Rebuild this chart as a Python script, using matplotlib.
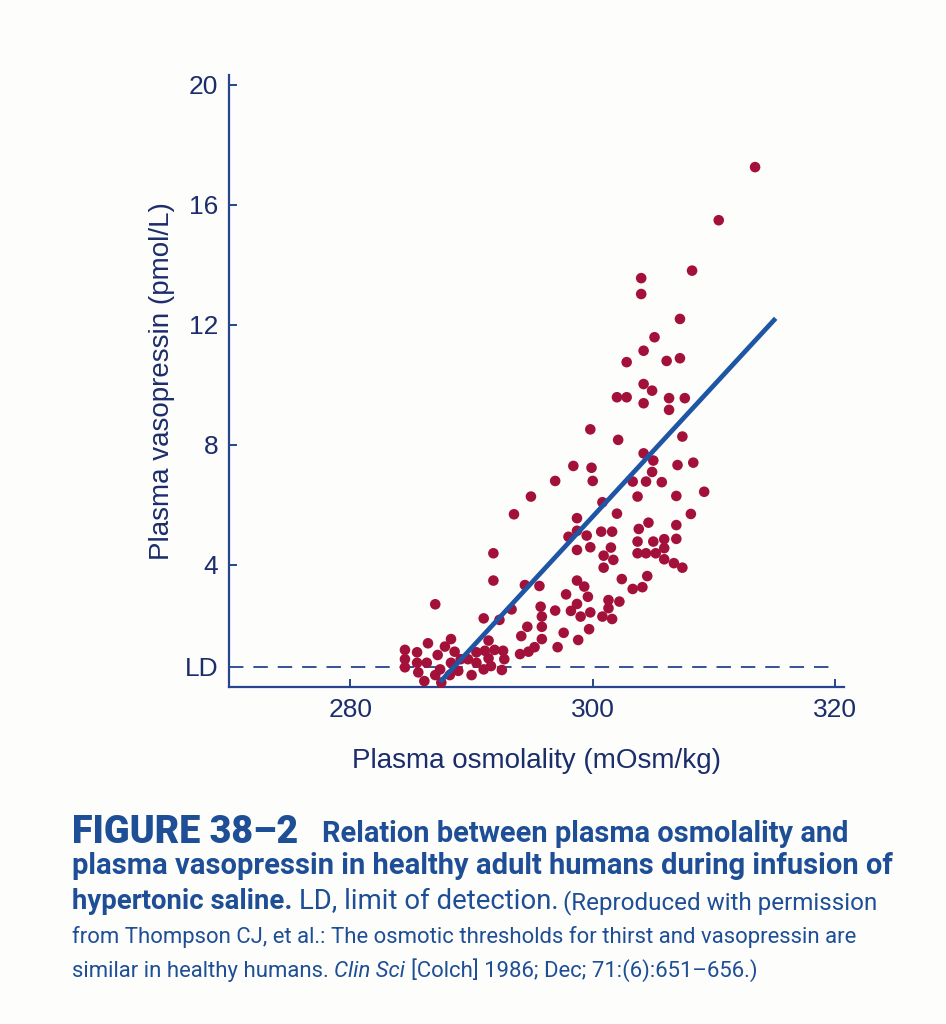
import matplotlib
matplotlib.use('Agg')
import matplotlib.pyplot as plt
from matplotlib import font_manager as fm

# ---------------- data ----------------
osmolality = [
    284.5, 284.5, 284.5, 285.5, 285.5, 285.6, 286.1, 286.4, 286.3, 287.2,
    287.4, 287.0, 287.5, 287.8, 288.3, 288.6, 288.3, 288.2, 288.9, 289.1,
    289.7, 290.0, 290.4, 290.4, 291.0, 291.1, 291.4, 291.4, 291.9, 291.6,
    292.6, 292.7, 292.5, 287.0,
    291.8, 294.4, 295.6, 293.3, 291.0, 292.3, 295.7, 295.8, 295.8, 295.8,
    294.6, 294.1, 296.9, 297.8, 298.7, 299.3, 299.6, 298.7, 298.2, 299.8,
    299.0, 299.7, 297.6, 298.8, 297.1, 295.2, 294.7, 294.0,
    299.8, 302.1, 304.2, 305.0, 304.9, 304.4, 305.7, 303.3, 303.7, 307.0,
    306.9, 298.4, 299.9, 300.0, 296.9, 294.9, 293.5, 300.8, 302.0, 298.7,
    298.7, 298.0, 299.5, 298.7, 299.8, 300.7, 301.6, 301.5, 300.9, 301.7,
    300.9, 303.8, 304.6, 303.7, 305.0, 305.9, 305.9, 303.7, 304.4, 305.2,
    305.9, 306.7, 306.9, 306.9, 291.8, 302.4, 304.5, 303.3, 304.1, 301.3,
    302.2, 301.3, 300.8, 301.6,
    308.3, 309.2, 308.1, 307.4,
    313.4, 310.4, 308.2, 304.0, 304.0, 307.2, 305.1, 304.2, 302.8, 306.1,
    307.2, 304.2, 304.9, 302.0, 302.8, 304.2, 306.3, 307.6, 306.3, 307.4,
]
vasopressin = [
    1.17, 0.86, 0.59, 1.09, 0.74, 0.42, 0.13, 1.39, 0.74, 1.00,
    0.52, 0.33, 0.08, 1.28, 1.53, 1.11, 0.74, 0.33, 0.47, 0.86,
    0.86, 0.33, 1.09, 0.74, 0.52, 1.14, 1.48, 0.89, 1.17, 0.63,
    1.14, 0.86, 0.50, 2.69,
    3.48, 3.33, 3.30, 2.52, 2.22, 2.17, 2.61, 2.28, 1.94, 1.53,
    1.94, 1.63, 2.48, 3.02, 3.48, 3.28, 2.94, 2.70, 2.47, 2.42,
    2.28, 1.86, 1.74, 1.50, 1.26, 1.26, 1.11, 1.03,
    8.52, 8.17, 7.72, 7.48, 7.10, 6.78, 6.76, 6.78, 6.28, 7.33,
    6.30, 7.30, 7.24, 6.80, 6.80, 6.28, 5.69, 6.09, 5.71, 5.56,
    5.14, 4.94, 4.98, 4.50, 4.59, 5.11, 5.11, 4.58, 4.31, 4.17,
    3.91, 5.20, 5.41, 4.78, 4.78, 4.86, 4.56, 4.39, 4.39, 4.39,
    4.19, 4.06, 5.33, 4.87, 4.39, 3.53, 3.63, 3.20, 3.26, 2.83,
    2.78, 2.56, 2.28, 2.20,
    7.41, 6.44, 5.70, 3.91,
    17.26, 15.49, 13.81, 13.56, 13.03, 12.20, 11.59, 11.14, 10.76, 10.80,
    10.89, 10.03, 9.81, 9.59, 9.59, 9.39, 9.56, 9.56, 9.17, 8.28,
]
fit_x = [287.4, 315.1]
fit_y = [0.10, 12.22]
LD = 0.6
x_ticks = [280, 300, 320]
y_ticks = [LD, 4, 8, 12, 16, 20]
y_tick_labels = ['LD', '4', '8', '12', '16', '20']

x_label = 'Plasma osmolality (mOsm/kg)'
y_label = 'Plasma vasopressin (pmol/L)'

# ---------------- style ----------------
W, H, DPI = 946, 1024, 100
BG = '#fdfdfc'
AXC = '#26458e'
TXC = '#1b2d6b'
DOT = '#a3103a'
LINEC = '#1f55a5'
CAPC = '#1d4e96'
AXF = ['Liberation Sans', 'DejaVu Sans']


def have(name):
    try:
        fm.findfont(fm.FontProperties(family=name), fallback_to_default=False)
        return True
    except Exception:
        return False


if have('Liberation Sans Narrow'):
    CAPF = ['Liberation Sans Narrow', 'DejaVu Sans']
elif have('Roboto'):
    CAPF = ['Roboto', 'DejaVu Sans']
else:
    CAPF = ['DejaVu Sans']

fig = plt.figure(figsize=(W / DPI, H / DPI), dpi=DPI)
fig.patch.set_facecolor(BG)

left, right, bottom, top = 229.3, 843.5, 686.7, 75.0
ax = fig.add_axes([left / W, 1 - bottom / H, (right - left) / W, (bottom - top) / H])
ax.set_facecolor('none')
ax.set_xlim(270, 320.7)
ax.set_ylim(-0.057, 20.33)

for s in ('top', 'right'):
    ax.spines[s].set_visible(False)
for s in ('left', 'bottom'):
    ax.spines[s].set_color(AXC)
    ax.spines[s].set_linewidth(1.6)

ax.set_xticks(x_ticks)
ax.set_xticklabels([str(v) for v in x_ticks])
ax.set_yticks(y_ticks)
ax.set_yticklabels(y_tick_labels)
ax.tick_params(axis='both', direction='in', length=6, width=1.4, color=AXC,
               labelcolor=TXC, labelsize=19)
ax.tick_params(axis='x', pad=8)
ax.tick_params(axis='y', pad=8)
for lab in ax.get_xticklabels() + ax.get_yticklabels():
    lab.set_family(AXF)
ax.yaxis.get_major_ticks()[0].tick1line.set_visible(False)

ax.hlines(LD, 270, 320, colors=AXC, linewidth=1.3, linestyles=(0, (8, 5.5)), zorder=2)
ax.scatter(osmolality, vasopressin, s=58, c=DOT, edgecolors='none', zorder=3, clip_on=False)
ax.plot(fit_x, fit_y, color=LINEC, lw=3.4, solid_capstyle='butt', zorder=4)

fig.text(536 / W, 1 - 761.5 / H, x_label, ha='center', va='center',
         fontsize=20, color=TXC, family=AXF)
fig.text(162 / W, 1 - 381 / H, y_label, ha='center', va='center', rotation=90,
         fontsize=20, color=TXC, family=AXF)

# ---------------- caption ----------------
renderer = fig.canvas.get_renderer()


def measure(text, size, weight='normal', style='normal'):
    t = fig.text(0, 0, text, fontsize=size, fontweight=weight, fontstyle=style,
                 family=CAPF, color=CAPC)
    w = t.get_window_extent(renderer=renderer).width
    t.remove()
    return w


def caption_line(segs, x0, x1, baseline, base=18):
    """segs: list of (text, relative size, weight, style); fit whole line to x0..x1."""
    widths, gaps = [], []
    for i, (txt, rel, wt, st) in enumerate(segs):
        size = base * rel
        widths.append(measure(txt, size, wt, st))
        if i > 0:
            gaps.append(measure('n n', size, 'normal') - measure('nn', size, 'normal'))
    k = (x1 - x0) / (sum(widths) + sum(gaps))
    x = x0
    for i, (txt, rel, wt, st) in enumerate(segs):
        if i > 0:
            x += gaps[i - 1] * k
        fig.text(x / W, 1 - baseline / H, txt, fontsize=base * rel * k, fontweight=wt,
                 fontstyle=st, family=CAPF, color=CAPC, ha='left', va='baseline')
        x += widths[i] * k


caption_line([('FIGURE 38\u20132', 1, 'black', 'normal')], 72, 298, 843, base=28)
caption_line([('Relation between plasma osmolality and', 1, 'bold', 'normal')], 322, 850, 842)
caption_line([('plasma vasopressin in healthy adult humans during infusion of', 1, 'bold', 'normal')],
             72, 895, 874)
caption_line([('hypertonic saline.', 1, 'bold', 'normal'),
              ('LD, limit of detection.', 1, 'normal', 'normal'),
              ('(Reproduced with permission', 0.88, 'normal', 'normal')],
             72, 878, 909)
caption_line([('from Thompson CJ, et al.: The osmotic thresholds for thirst and vasopressin are',
               1, 'normal', 'normal')], 72, 859, 943, base=16)
caption_line([('similar in healthy humans.', 1, 'normal', 'normal'),
              ('Clin Sci', 1, 'normal', 'italic'),
              ('[Colch] 1986; Dec; 71:(6):651\u2013656.)', 1, 'normal', 'normal')],
             72, 759, 977, base=16)

fig.savefig('out.png', dpi=DPI, facecolor=BG)
